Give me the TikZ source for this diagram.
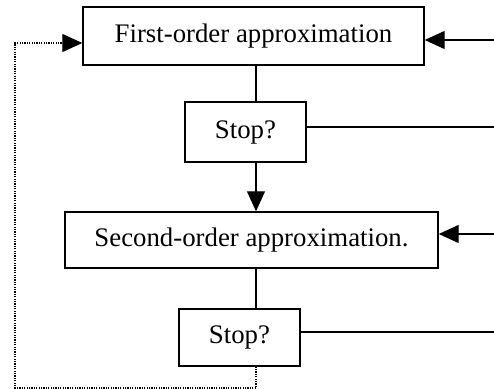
\documentclass[tikz,border=0pt]{standalone}
\usepackage{fontspec}
\setmainfont{Liberation Serif}
\usetikzlibrary{positioning,arrows.meta,calc}

\begin{document}
\begin{tikzpicture}[x=0.5pt,y=-0.5pt,
  box/.style={draw,line width=0.7pt,inner sep=0pt,font=\fontsize{13.4}{16}\selectfont},
  link/.style={line width=0.6pt},
  arr/.style={link,-{Triangle[length=10pt,width=9pt]}},
  loop/.style={line width=0.6pt,dash pattern=on 0.6pt off 0.6pt}]
\useasboundingbox (0,0) rectangle (494,389);
% the four steps
\node[box,minimum width=170.5pt,minimum height=29pt] (first) at (253.5,36) {First-order approximation};
\node[box,minimum width=60.5pt,minimum height=30pt] (stopA) at (245.5,132) {Stop?};
\node[box,minimum width=186.5pt,minimum height=28pt] (second) at (251.5,240) {Second-order approximation.};
\node[box,minimum width=60.5pt,minimum height=28.5pt] (stopB) at (239.5,337.5) {Stop?};
% free ends
\coordinate (spine) at (256,0);
\coordinate (inA) at (494,40);
\coordinate (outA) at (494,127);
\coordinate (inB) at (494,234);
\coordinate (outB) at (494,332);
\coordinate (far) at (15,388);
\coordinate (back) at (15,43);
% main line
\draw[link] (first.south -| spine) -- (stopA.north -| spine);
\draw[arr] (stopA.south -| spine) -- (second.north -| spine);
\draw[link] (second.south -| spine) -- (stopB.north -| spine);
% right side
\draw[arr] (inA) -- (first.east |- inA);
\draw[link] (stopA.east |- outA) -- (outA);
\draw[arr] (inB) -- (second.east |- inB);
\draw[link] (stopB.east |- outB) -- (outB);
% dotted loop back to the first step
\draw[loop,-{Triangle[length=10pt,width=9pt]}] (stopB.south -| spine) -- (spine |- far) -- (far) -- (back) -- (first.west |- back);
\end{tikzpicture}
\end{document}
